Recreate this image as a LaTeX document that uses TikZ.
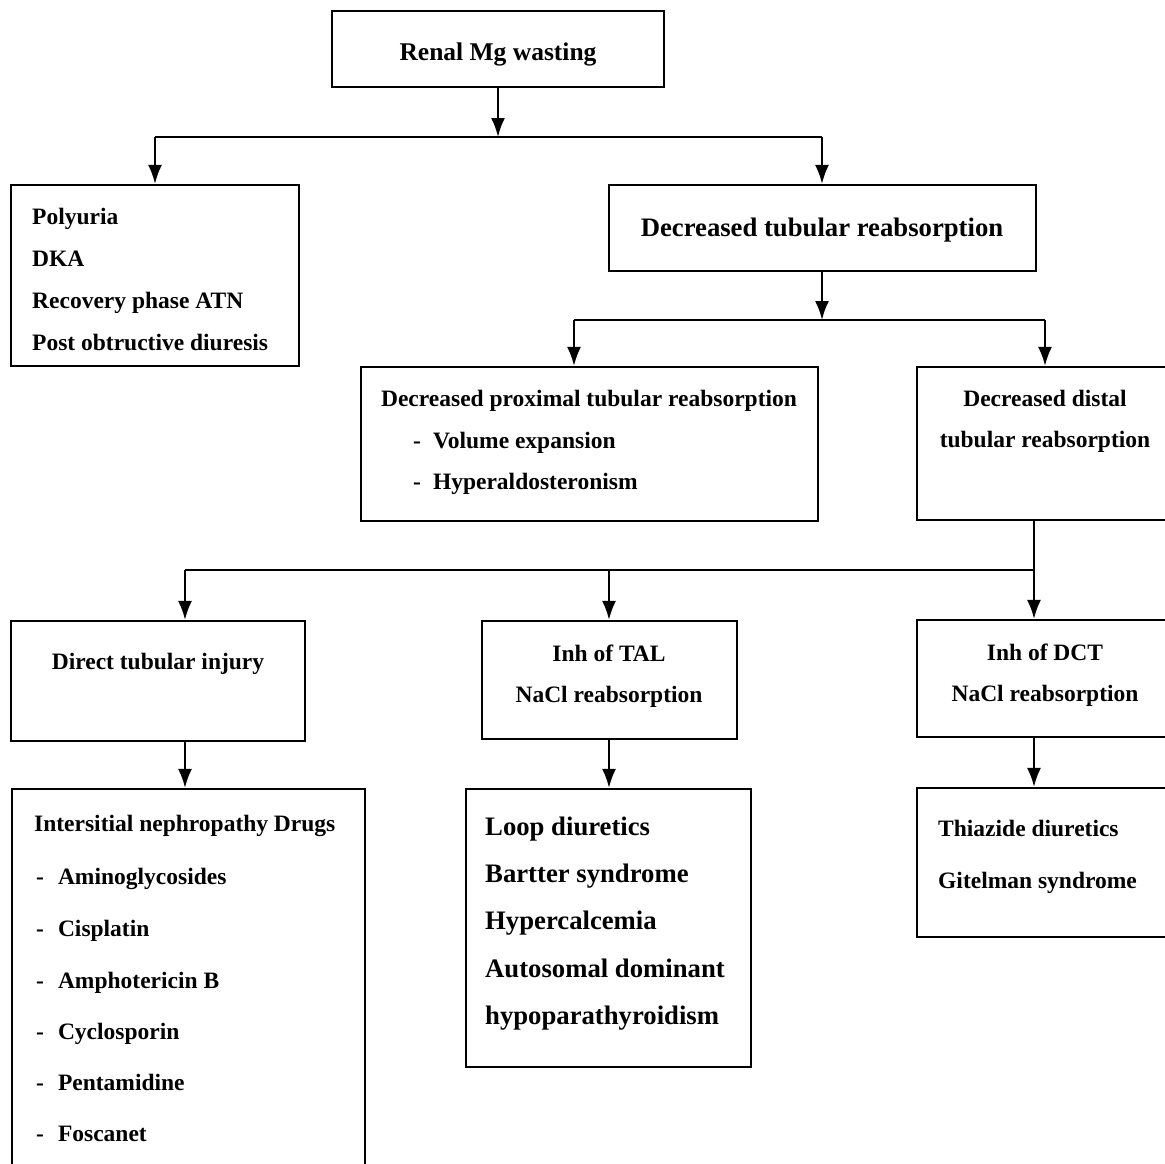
\documentclass[tikz,border=0pt]{standalone}
\usepackage{fontspec}
\setmainfont{Liberation Serif}
\usetikzlibrary{arrows.meta}

\begin{document}
\begin{tikzpicture}[x=1pt, y=-1pt,
    box/.style={draw, line width=2.2pt, inner sep=0pt},
    word/.style={font=\bfseries\fontsize{23.5}{28}\selectfont, inner sep=0pt},
    bigword/.style={font=\bfseries\fontsize{26.7}{32}\selectfont, inner sep=0pt},
    flow/.style={line width=2.2pt, -{Latex[length=19pt, width=14pt]}}]

    \useasboundingbox (0,0) rectangle (1165,1164);

    % boxes
    \node (renal) [box, minimum width=332pt, minimum height=76pt] at (498,49) {};
    \node (poly) [box, minimum width=288pt, minimum height=181pt] at (155,275.5) {};
    \node (dtr) [box, minimum width=427pt, minimum height=86pt] at (822.5,228) {};
    \node (prox) [box, minimum width=457pt, minimum height=154pt] at (589.5,444) {};
    \node (dist) [box, minimum width=258pt, minimum height=153pt] at (1046,443.5) {};
    \node (direct) [box, minimum width=294pt, minimum height=120pt] at (158,681) {};
    \node (tal) [box, minimum width=255pt, minimum height=118pt] at (609.5,680) {};
    \node (dct) [box, minimum width=258pt, minimum height=117pt] at (1046,678.5) {};
    \node (inter) [box, minimum width=353pt, minimum height=391pt] at (188.5,984.5) {};
    \node (loop) [box, minimum width=285pt, minimum height=278pt] at (608.5,928) {};
    \node (thia) [box, minimum width=258pt, minimum height=149pt] at (1046,862.5) {};

    % branch points
    \coordinate (j1) at (498,137);
    \coordinate (j2) at (822,320);
    \coordinate (j2a) at (574,320);
    \coordinate (j2b) at (1045,320);
    \coordinate (j3) at (1034,570);
    \coordinate (j3a) at (185,570);
    \coordinate (j3b) at (609,570);

    % Renal Mg wasting
    \draw [flow] (renal.south) -- (j1);
    \draw [line width=2.2pt] (poly.north |- j1) -- (j1 -| j2);
    \draw [flow] (poly.north |- j1) -- (poly.north);
    \draw [flow] (j1 -| j2) -- (j2 |- dtr.north);

    % decreased tubular reabsorption
    \draw [flow] (j2 |- dtr.south) -- (j2);
    \draw [line width=2.2pt] (j2a) -- (j2b);
    \draw [flow] (j2a) -- (j2a |- prox.north);
    \draw [flow] (j2b) -- (j2b |- dist.north);

    % distal
    \draw [line width=2.2pt] (j3 |- dist.south) -- (j3) -- (j3a);
    \draw [flow] (j3) -- (j3 |- dct.north);
    \draw [flow] (j3a) -- (j3a |- direct.north);
    \draw [flow] (j3b) -- (j3b |- tal.north);

    % lower row
    \draw [flow] (j3a |- direct.south) -- (j3a |- inter.north);
    \draw [flow] (j3b |- tal.south) -- (j3b |- loop.north);
    \draw [flow] (j3 |- dct.south) -- (j3 |- thia.north);

    % texts
    \node (renal-t) at (498,60) [bigword, font=\bfseries\fontsize{25.5}{30}\selectfont, anchor=base] {Renal Mg wasting};
    \node (dtr-t) at (822,236) [bigword, anchor=base] {Decreased tubular reabsorption};

    \foreach \y/\word in {224/Polyuria, 266/DKA, 308/Recovery phase ATN, 350/Post obtructive diuresis} {
        \node (poly-\y) at (32,\y) [word, anchor=base west] {\word};
    }

    \node (prox-t) at (589,406) [word, anchor=base] {Decreased proximal tubular reabsorption};
    \foreach \y/\word in {448/Volume expansion, 489/Hyperaldosteronism} {
        \node (prox-\y) at (413,\y) [word, anchor=base west] {-\hspace{12pt}\word};
    }

    \foreach \y/\word in {406/Decreased distal, 447/tubular reabsorption} {
        \node (dist-\y) at (1045,\y) [word, anchor=base] {\word};
    }

    \node (direct-t) at (158,669) [word, anchor=base] {Direct tubular injury};

    \foreach \y/\word in {661/Inh of TAL, 702/NaCl reabsorption} {
        \node (tal-\y) at (609,\y) [word, anchor=base] {\word};
    }
    \foreach \y/\word in {660/Inh of DCT, 701/NaCl reabsorption} {
        \node (dct-\y) at (1045,\y) [word, anchor=base] {\word};
    }

    \node (inter-t) at (34,831) [word, anchor=base west] {Intersitial nephropathy Drugs};
    \foreach \y/\word in {884/Aminoglycosides, 936/Cisplatin, 988/Amphotericin B, 1039/Cyclosporin, 1090/Pentamidine, 1141/Foscanet} {
        \node (inter-\y) at (36,\y) [word, anchor=base west] {-\hspace{14pt}\word};
    }

    \foreach \y/\word in {835/Loop diuretics, 882/Bartter syndrome, 929/Hypercalcemia, 977/Autosomal dominant, 1024/hypoparathyroidism} {
        \node (loop-\y) at (485,\y) [bigword, anchor=base west] {\word};
    }

    \foreach \y/\word in {836/Thiazide diuretics, 888/Gitelman syndrome} {
        \node (thia-\y) at (938,\y) [word, anchor=base west] {\word};
    }
\end{tikzpicture}
\end{document}
